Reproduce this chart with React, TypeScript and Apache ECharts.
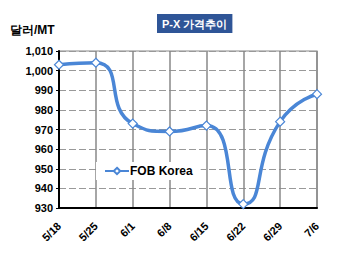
import React, { useEffect, useRef } from "react";
import * as echarts from "echarts";

const categories = ["5/18", "5/25", "6/1", "6/8", "6/15", "6/22", "6/29", "7/6"];
const fobKorea = [1003, 1004, 973, 969, 972, 932, 974, 988];
const seriesName = "FOB Korea";
const titleText = "P-X 가격추이";
const unitText = "달러/MT";

export default function App() {
  const ref = useRef<HTMLDivElement>(null);
  useEffect(() => {
    if (!ref.current) return;
    const chart = echarts.init(ref.current, null, { renderer: "svg" });
    const font = "Liberation Sans, Arial, sans-serif";
    chart.setOption({
      animation: false,
      backgroundColor: "#ffffff",
      title: {
        text: titleText,
        left: 157,
        top: 14,
        backgroundColor: "#2F5597",
        padding: [4, 5, 4, 5],
        textStyle: { color: "#ffffff", fontSize: 11, fontWeight: "bold", fontFamily: font },
      },
      graphic: [
        {
          type: "text",
          left: 10,
          top: 24,
          style: { text: unitText, fill: "#000", font: `bold 12px ${font}` },
        },
      ],
      legend: {
        left: 96,
        top: 162,
        backgroundColor: "#ffffff",
        padding: [3, 8, 3, 8],
        itemWidth: 24,
        itemHeight: 8,
        itemGap: 2,
        textStyle: { fontSize: 12, fontWeight: "bold", color: "#000", fontFamily: font, padding: [0, 0, 0, -4] },
        data: [seriesName],
      },
      grid: { left: 59, top: 51, right: 33, bottom: 49, show: true, borderColor: "#888", borderWidth: 1.2 },
      xAxis: {
        type: "category",
        data: categories,
        boundaryGap: false,
        axisLine: { lineStyle: { color: "#000", width: 2 } },
        axisTick: { show: false },
        axisLabel: { rotate: 45, fontSize: 11, fontWeight: "bold", color: "#000", fontFamily: font, margin: 16 },
        splitLine: { show: true, lineStyle: { color: "#888", width: 1.5 } },
      },
      yAxis: {
        type: "value",
        min: 930,
        max: 1010,
        interval: 10,
        axisLine: { show: true, lineStyle: { color: "#000", width: 2 } },
        axisTick: { show: true, length: 3, lineStyle: { color: "#000" } },
        axisLabel: {
          fontSize: 11,
          fontWeight: "bold",
          color: "#000",
          fontFamily: font,
          margin: 6,
          formatter: (v: number) => v.toLocaleString("en-US"),
        },
        splitLine: { show: true, lineStyle: { color: "#999", width: 1.2, type: [7, 3] } },
      },
      series: [
        {
          name: seriesName,
          type: "line",
          data: fobKorea,
          smooth: 0.6,
          symbol: "diamond",
          symbolSize: 9,
          showAllSymbol: true,
          lineStyle: { color: "#4A86D6", width: 3.5 },
          itemStyle: { color: "#ffffff", borderColor: "#4A86D6", borderWidth: 1.2 },
        },
      ],
    });
    return () => chart.dispose();
  }, []);
  return <div ref={ref} style={{ width: 350, height: 257, position: "absolute", left: 0, top: 0 }} />;
}
